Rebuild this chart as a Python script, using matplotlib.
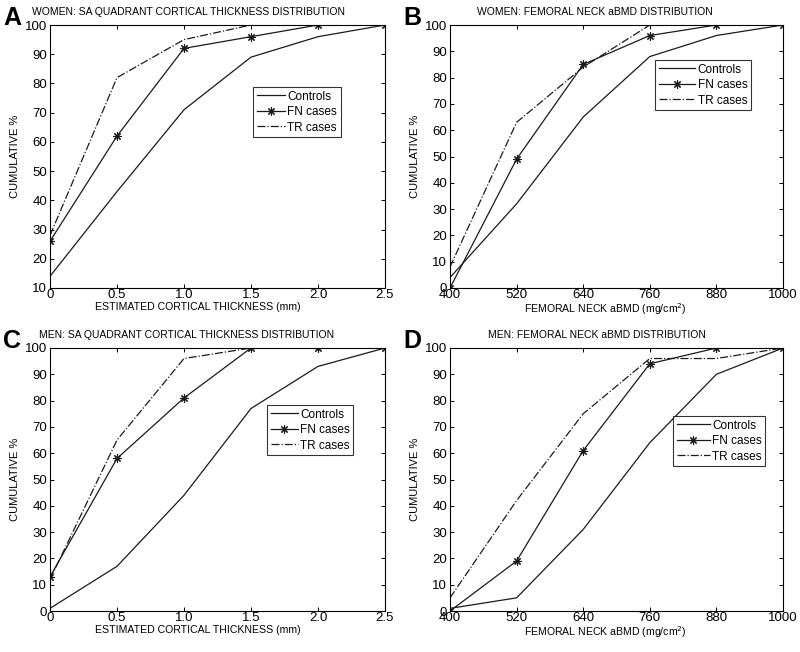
import matplotlib
matplotlib.use("Agg")
import matplotlib.pyplot as plt

plt.rcParams['font.family'] = ['Liberation Sans', 'DejaVu Sans']

# ---- datos ----
x_thick = [0, 0.5, 1.0, 1.5, 2.0, 2.5]
x_bmd = [400, 520, 640, 760, 880, 1000]

a_controls = [14, 43, 71, 89, 96, 100]
a_fn = [26, 62, 92, 96, 100, 100]
a_tr = [28, 82, 95, 100]

b_controls = [4, 32, 65, 88, 96, 100]
b_fn = [0, 49, 85, 96, 100, 100]
b_tr = [8, 63, 84, 100]

c_controls = [1, 17, 44, 77, 93, 100]
c_fn = [13, 58, 81, 100, 100, 100]
c_tr = [12, 65, 96, 100]

d_controls = [1, 5, 31, 64, 90, 100]
d_fn = [0, 19, 61, 94, 100, 100]
d_tr = [5, 42, 75, 96, 96, 100]

thick_ticks = ['0', '0.5', '1.0', '1.5', '2.0', '2.5']
bmd_ticks = ['400', '520', '640', '760', '880', '1000']

W, H = 800, 652
fig = plt.figure(figsize=(8, 6.52), dpi=100)


def px_axes(left, top, right, bottom):
    return fig.add_axes([left / W, 1 - bottom / H, (right - left) / W, (bottom - top) / H])


panels = [
    # (caja px, x, ticks, controls, fn, tr, ylim, titulo, x titulo, xlabel, x xlabel, dy xlabel, letra, leyenda px, handlelength)
    ((50, 25, 385, 288), x_thick, thick_ticks, a_controls, a_fn, a_tr, (10, 100),
     'WOMEN: SA QUADRANT CORTICAL THICKNESS DISTRIBUTION', 188,
     'ESTIMATED CORTICAL THICKNESS (mm)', 198, 19, 'A', (253, 87), 2.4),
    ((450, 25, 783, 288), x_bmd, bmd_ticks, b_controls, b_fn, b_tr, (0, 100),
     'WOMEN: FEMORAL NECK aBMD DISTRIBUTION', 595,
     'FEMORAL NECK aBMD (mg/cm$^2$)', 605, 21, 'B', (655, 60), 3.1),
    ((50, 348, 385, 611), x_thick, thick_ticks, c_controls, c_fn, c_tr, (0, 100),
     'MEN: SA QUADRANT CORTICAL THICKNESS DISTRIBUTION', 187,
     'ESTIMATED CORTICAL THICKNESS (mm)', 198, 19, 'C', (267, 405), 2.3),
    ((450, 348, 783, 611), x_bmd, bmd_ticks, d_controls, d_fn, d_tr, (0, 100),
     'MEN: FEMORAL NECK aBMD DISTRIBUTION', 597,
     'FEMORAL NECK aBMD (mg/cm$^2$)', 605, 21, 'D', (673, 416), 2.8),
]

for (box, xs, xt, ctrl, fn, tr, ylim, title, tcx, xlabel, xlx, xdy, letter, legpx, hl) in panels:
    ax = px_axes(*box)
    ax.plot(xs, ctrl, color='#1a1a1a', lw=0.9, label='Controls')
    ax.plot(xs, fn, color='#1a1a1a', lw=0.9, marker=(8, 2, 0), ms=6, mew=0.8,
            label='FN cases')
    ax.plot(xs[:len(tr)], tr, color='#1a1a1a', lw=0.9, ls='-.', label='TR cases')

    ax.set_xlim(xs[0], xs[-1])
    ax.set_ylim(*ylim)
    ax.set_xticks(xs)
    ax.set_xticklabels(xt)
    ax.set_yticks(range(ylim[0], 101, 10))
    ax.tick_params(direction='in', top=True, right=True, labelsize=9.5, length=3,
                   width=0.7)
    ax.tick_params(axis='x', pad=1)
    ax.tick_params(axis='y', pad=2)
    for s in ax.spines.values():
        s.set_linewidth(0.8)

    left, top, right, bottom = box
    lx = (legpx[0] - left) / (right - left)
    ly = (bottom - legpx[1]) / (bottom - top)
    leg = ax.legend(loc='upper left', bbox_to_anchor=(lx, ly), borderaxespad=0,
                    fontsize=8.5, frameon=True, fancybox=False, edgecolor='black',
                    handlelength=hl, borderpad=0.3, labelspacing=0.3,
                    handletextpad=0.2)
    leg.get_frame().set_linewidth(0.8)

    fig.text(tcx / W, 1 - (top - 13) / H, title, ha='center', va='center', fontsize=7.5)
    fig.text(xlx / W, 1 - (bottom + xdy) / H, xlabel, ha='center', va='center', fontsize=7.6)
    fig.text((left - 35) / W, 1 - ((top + bottom) / 2) / H, 'CUMULATIVE %', rotation=90,
             ha='center', va='center', fontsize=8)
    fig.text((left - 38) / W, 1 - (top - 7) / H, letter, ha='center', va='center',
             fontsize=18, fontweight='bold')

fig.savefig('out.png', dpi=100)
